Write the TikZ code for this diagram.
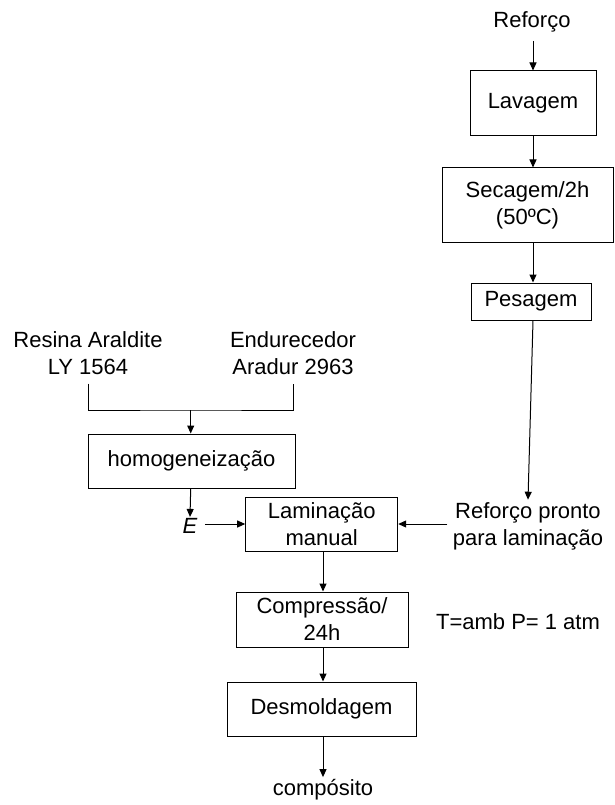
\documentclass[tikz,border=0pt]{standalone}
\usepackage{fontspec}
\setmainfont{Liberation Sans}
\usetikzlibrary{positioning, arrows.meta}

\tikzset{
  etapa/.style={draw, line width=1pt, inner sep=0pt, align=center},
  texto/.style={align=center, inner sep=2pt},
}

\begin{document}
\begin{tikzpicture}[x=1pt, y=-1pt, >={Triangle[length=8pt, width=7pt]}, line width=1pt,
    every node/.style={font=\fontsize{22}{27}\selectfont}]
    \useasboundingbox (0,0) rectangle (615,805);

    % Ramo do reforco
    \node[texto] (reforco) at (532,22) {Reforço};
    \node[etapa, minimum width=126pt, minimum height=65pt] (lavagem) at (533,103.5) {Lavagem};
    \node[etapa, minimum width=171pt, minimum height=74pt] (secagem) at (527.5,205) {Secagem/2h\\(50ºC)};
    \node[etapa, minimum width=120pt, minimum height=37pt] (pesagem) at (531,301.5) {Pesagem};
    \node[texto] (pronto) at (528,526) {Reforço pronto\\para laminação};

    % Ramo da resina
    \node[texto] (resina) at (88,353.5) {Resina Araldite\\LY 1564};
    \node[texto] (endurecedor) at (293,353.5) {Endurecedor\\Aradur 2963};
    \coordinate (juncao) at (190.7,410);
    \node[etapa, minimum width=207pt, minimum height=54pt] (homog) at (191.5,461) {homogeneização};
    \node[texto, inner sep=1pt] (E) at (190,526) {\textit{E}};

    % Processamento
    \node[etapa, minimum width=152pt, minimum height=54pt] (laminacao) at (321.7,524) {Laminação\\manual};
    \node[etapa, minimum width=172pt, minimum height=55pt] (compressao) at (322,619.5) {Compressão/\\24h};
    \node[texto] (condicoes) at (518,622) {T=amb P= 1 atm};
    \node[etapa, minimum width=189pt, minimum height=54pt] (desmoldagem) at (321.5,709) {Desmoldagem};
    \node[texto] (composito) at (323,790) {compósito};

    % Setas do reforco
    \draw[->] (reforco.south -| 533,0) ++(0,6) -- (lavagem.north -| 533,0);
    \draw[->] (lavagem.south -| 533,0) -- (secagem.north -| 533,0);
    \draw[->] (secagem.south -| 533,0) -- (pesagem.north -| 533,0);
    \draw[->] (pesagem.south -| 533,0) -- (pronto.north);

    % Mistura resina + endurecedor
    \draw (resina.south) ++(0,6) |- (juncao) -| ([yshift=-6pt]endurecedor.south);
    \draw[->] (juncao) -- (juncao |- homog.north);
    \draw[->] (homog.south -| juncao) -- (E.north);

    % Entradas da laminacao
    \draw[->] ([xshift=6pt]E.east |- laminacao.west) -- (laminacao.west);
    \draw[->] ([xshift=-3pt]pronto.west |- laminacao.east) -- (laminacao.east);

    % Sequencia final
    \draw[->] (laminacao.south -| 323,0) -- (compressao.north -| 323,0);
    \draw[->] (compressao.south -| 323,0) -- (desmoldagem.north -| 323,0);
    \draw[->] (desmoldagem.south -| 323,0) -- (composito.north -| 323,0);
\end{tikzpicture}
\end{document}
